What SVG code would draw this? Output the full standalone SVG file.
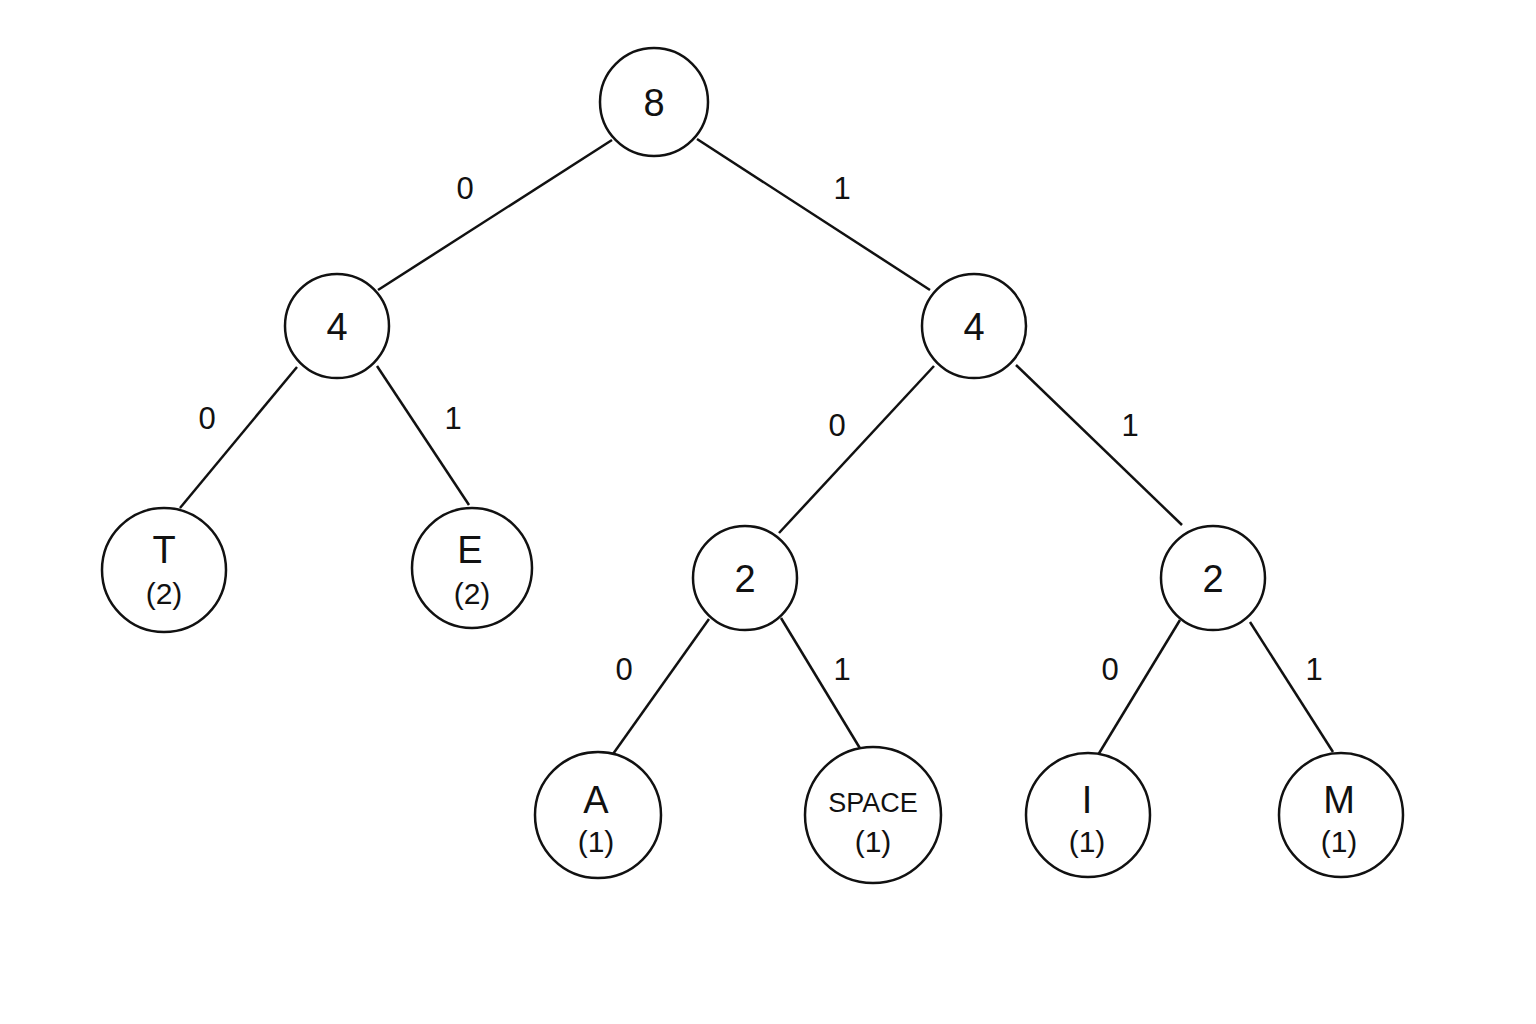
<svg xmlns="http://www.w3.org/2000/svg" width="1536" height="1024" viewBox="0 0 1536 1024">
<style>
circle{fill:#fff;stroke:#111;stroke-width:2.5}
line{stroke:#111;stroke-width:2.5}
text{font-family:"Liberation Sans",Arial,sans-serif;fill:#111;text-anchor:middle}
.n{font-size:38px}
.c{font-size:30px}
.e{font-size:31px}
</style>
<rect width="1536" height="1024" fill="#fff"/>
<g id="connectors">
<line x1="612" y1="140" x2="378" y2="290"/>
<line x1="697" y1="139" x2="930" y2="290"/>
<line x1="297" y1="367" x2="180" y2="508"/>
<line x1="377" y1="366" x2="469" y2="505"/>
<line x1="934" y1="366" x2="779" y2="533"/>
<line x1="1016" y1="365" x2="1182" y2="525"/>
<line x1="709" y1="619" x2="613" y2="754"/>
<line x1="781" y1="618" x2="861" y2="750"/>
<line x1="1180" y1="620" x2="1098" y2="755"/>
<line x1="1250" y1="622" x2="1333" y2="752"/>
<text class="e" x="465" y="199">0</text>
<text class="e" x="842" y="199">1</text>
<text class="e" x="207" y="429">0</text>
<text class="e" x="453" y="429">1</text>
<text class="e" x="837" y="436">0</text>
<text class="e" x="1130" y="436">1</text>
<text class="e" x="624" y="680">0</text>
<text class="e" x="842" y="680">1</text>
<text class="e" x="1110" y="680">0</text>
<text class="e" x="1314" y="680">1</text>
</g>
<g id="root"><circle cx="654" cy="102" r="54"/><text class="n" x="654" y="116">8</text></g>
<g id="l4"><circle cx="337" cy="326" r="52"/><text class="n" x="337" y="340">4</text></g>
<g id="r4"><circle cx="974" cy="326" r="52"/><text class="n" x="974" y="340">4</text></g>
<g id="t"><circle cx="164" cy="570" r="62"/><text class="n" x="164" y="563">T</text><text class="c" x="164" y="604">(2)</text></g>
<g id="e"><circle cx="472" cy="568" r="60"/><text class="n" x="470" y="563">E</text><text class="c" x="472" y="604">(2)</text></g>
<g id="n2a"><circle cx="745" cy="578" r="52"/><text class="n" x="745" y="592">2</text></g>
<g id="n2b"><circle cx="1213" cy="578" r="52"/><text class="n" x="1213" y="592">2</text></g>
<g id="a"><circle cx="598" cy="815" r="63"/><text class="n" x="596" y="813">A</text><text class="c" x="596" y="852">(1)</text></g>
<g id="space"><circle cx="873" cy="815" r="68"/><text x="873" y="812" style="font-size:27px">SPACE</text><text class="c" x="873" y="852">(1)</text></g>
<g id="i"><circle cx="1088" cy="815" r="62"/><text class="n" x="1087" y="813">I</text><text class="c" x="1087" y="852">(1)</text></g>
<g id="m"><circle cx="1341" cy="815" r="62"/><text class="n" x="1339" y="813">M</text><text class="c" x="1339" y="852">(1)</text></g>
</svg>
